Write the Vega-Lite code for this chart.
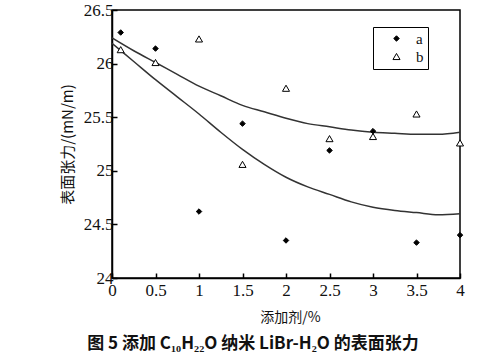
{
  "$schema": "https://vega.github.io/schema/vega-lite/v6.json",
  "width": 348,
  "height": 268,
  "autosize": {"type": "none"},
  "padding": {"left": 112, "top": 10, "right": 36, "bottom": 79},
  "background": "white",
  "title": {
    "text": "图 5     添加   C₁₀H₂₂O   纳米   LiBr-H₂O   的表面张力",
    "orient": "bottom",
    "anchor": "middle",
    "dx": -33,
    "offset": 12,
    "font": "Noto Sans CJK SC",
    "fontSize": 17,
    "fontWeight": "bold",
    "color": "#111"
  },
  "config": {
    "view": {"stroke": "black", "strokeWidth": 1.5},
    "axis": {
      "grid": false,
      "domainColor": "black",
      "domainWidth": 1.5,
      "tickColor": "black",
      "tickSize": -5,
      "tickWidth": 1.5,
      "labelFont": "Liberation Serif",
      "labelFontSize": 17,
      "labelColor": "#111",
      "titleFont": "Noto Sans CJK SC",
      "titleFontWeight": "normal",
      "titleColor": "#111"
    }
  },
  "datasets": {
    "points": [
      {"x": 0.1, "y": 26.29, "series": "a"},
      {"x": 0.5, "y": 26.14, "series": "a"},
      {"x": 1.0, "y": 24.62, "series": "a"},
      {"x": 1.5, "y": 25.44, "series": "a"},
      {"x": 2.0, "y": 24.35, "series": "a"},
      {"x": 2.5, "y": 25.19, "series": "a"},
      {"x": 3.0, "y": 25.37, "series": "a"},
      {"x": 3.5, "y": 24.33, "series": "a"},
      {"x": 4.0, "y": 24.40, "series": "a"},
      {"x": 0.1, "y": 26.13, "series": "b"},
      {"x": 0.5, "y": 26.01, "series": "b"},
      {"x": 1.0, "y": 26.23, "series": "b"},
      {"x": 1.5, "y": 25.06, "series": "b"},
      {"x": 2.0, "y": 25.77, "series": "b"},
      {"x": 2.5, "y": 25.30, "series": "b"},
      {"x": 3.0, "y": 25.32, "series": "b"},
      {"x": 3.5, "y": 25.53, "series": "b"},
      {"x": 4.0, "y": 25.26, "series": "b"}
    ],
    "fits": [
      {"x": 0.0, "y": 26.24, "curve": "upper"},
      {"x": 0.25, "y": 26.12, "curve": "upper"},
      {"x": 0.5, "y": 26.01, "curve": "upper"},
      {"x": 0.75, "y": 25.9, "curve": "upper"},
      {"x": 1.0, "y": 25.79, "curve": "upper"},
      {"x": 1.25, "y": 25.7, "curve": "upper"},
      {"x": 1.5, "y": 25.61, "curve": "upper"},
      {"x": 1.75, "y": 25.55, "curve": "upper"},
      {"x": 2.0, "y": 25.49, "curve": "upper"},
      {"x": 2.25, "y": 25.44, "curve": "upper"},
      {"x": 2.5, "y": 25.41, "curve": "upper"},
      {"x": 2.75, "y": 25.38, "curve": "upper"},
      {"x": 3.0, "y": 25.36, "curve": "upper"},
      {"x": 3.25, "y": 25.35, "curve": "upper"},
      {"x": 3.5, "y": 25.34, "curve": "upper"},
      {"x": 3.75, "y": 25.34, "curve": "upper"},
      {"x": 4.0, "y": 25.36, "curve": "upper"},
      {"x": 0.0, "y": 26.19, "curve": "lower"},
      {"x": 0.25, "y": 26.02, "curve": "lower"},
      {"x": 0.5, "y": 25.85, "curve": "lower"},
      {"x": 0.75, "y": 25.69, "curve": "lower"},
      {"x": 1.0, "y": 25.53, "curve": "lower"},
      {"x": 1.25, "y": 25.36, "curve": "lower"},
      {"x": 1.5, "y": 25.2, "curve": "lower"},
      {"x": 1.75, "y": 25.06, "curve": "lower"},
      {"x": 2.0, "y": 24.94, "curve": "lower"},
      {"x": 2.25, "y": 24.85, "curve": "lower"},
      {"x": 2.5, "y": 24.78, "curve": "lower"},
      {"x": 2.75, "y": 24.71, "curve": "lower"},
      {"x": 3.0, "y": 24.66, "curve": "lower"},
      {"x": 3.25, "y": 24.63, "curve": "lower"},
      {"x": 3.5, "y": 24.61, "curve": "lower"},
      {"x": 3.75, "y": 24.59, "curve": "lower"},
      {"x": 4.0, "y": 24.6, "curve": "lower"}
    ]
  },
  "encoding": {
    "x": {
      "field": "x",
      "type": "quantitative",
      "scale": {"domain": [0, 4], "nice": false, "zero": false},
      "axis": {
        "title": "添加剂/%",
        "titleFontSize": 14,
        "titlePadding": 12,
        "titleX": 178,
        "values": [0, 0.5, 1, 1.5, 2, 2.5, 3, 3.5, 4],
        "labelExpr": "datum.value + ''",
        "labelPadding": 9,
        "labelFlush": false
      }
    },
    "y": {
      "field": "y",
      "type": "quantitative",
      "scale": {"domain": [24, 26.5], "nice": false, "zero": false},
      "axis": {
        "title": "表面张力/(mN/m)",
        "titleFontSize": 15,
        "titlePadding": 8,
        "values": [24, 24.5, 25, 25.5, 26, 26.5],
        "labelExpr": "datum.value + ''",
        "labelPadding": 4,
        "labelFlush": false
      }
    }
  },
  "layer": [
    {
      "data": {"name": "fits"},
      "mark": {"type": "line", "color": "#333", "strokeWidth": 1.5, "interpolate": "monotone", "clip": true},
      "encoding": {"detail": {"field": "curve"}}
    },
    {
      "data": {"name": "points"},
      "mark": {"type": "point", "filled": true, "stroke": "black", "strokeWidth": 1, "opacity": 1},
      "encoding": {
        "shape": {
          "field": "series",
          "type": "nominal",
          "scale": {"domain": ["a", "b"], "range": ["diamond", "triangle-up"]},
          "legend": {
            "title": null,
            "orient": "none",
            "legendX": 261,
            "legendY": 17,
            "strokeColor": "black",
            "fillColor": "white",
            "padding": 4,
            "symbolOffset": 12,
            "labelFont": "Liberation Serif",
            "labelFontSize": 15,
            "labelColor": "#111",
            "labelOffset": 12,
            "labelExpr": "datum.label + '   '",
            "rowPadding": 2,
            "symbolStrokeColor": "black",
            "symbolStrokeWidth": 1
          }
        },
        "fill": {
          "field": "series",
          "type": "nominal",
          "scale": {"domain": ["a", "b"], "range": ["black", "white"]}
        },
        "size": {
          "field": "series",
          "type": "nominal",
          "scale": {"domain": ["a", "b"], "range": [30, 50]}
        }
      }
    }
  ]
}
